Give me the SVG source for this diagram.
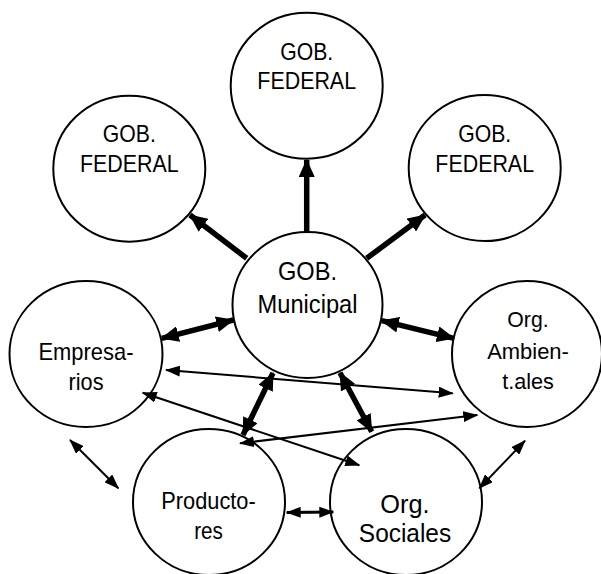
<svg xmlns="http://www.w3.org/2000/svg" width="601" height="574" viewBox="0 0 601 574">
  <style>
    .node ellipse { fill: #fff; stroke: #000; stroke-width: 2; }
    .node text { font-family: "Liberation Sans", Arial, sans-serif; fill: #000; text-anchor: middle; }
    .thick { stroke: #000; stroke-width: 5.5; fill: none; }
    .thin { stroke: #000; stroke-width: 2; fill: none; }
    .mid { stroke: #000; stroke-width: 3; fill: none; }
  </style>
  <defs>
    <marker id="headBig" viewBox="0 0 18 16" refX="17" refY="8" markerWidth="18" markerHeight="16" markerUnits="userSpaceOnUse" orient="auto-start-reverse">
      <path d="M0,0 L18,8 L0,16 z" fill="#000"/>
    </marker>
    <marker id="headSmall" viewBox="0 0 15 11" refX="14" refY="5.5" markerWidth="15" markerHeight="11" markerUnits="userSpaceOnUse" orient="auto-start-reverse">
      <path d="M0,0 L15,5.5 L0,11 z" fill="#000"/>
    </marker>
  </defs>

  <!-- nodes -->
  <g id="fed-top" class="node">
    <ellipse cx="306.7" cy="85.7" rx="76" ry="73"/>
    <text x="306.7" y="60" font-size="24" textLength="53" lengthAdjust="spacingAndGlyphs">GOB.</text>
    <text x="306.7" y="89.3" font-size="24" textLength="98.7" lengthAdjust="spacingAndGlyphs">FEDERAL</text>
  </g>
  <g id="fed-left" class="node">
    <ellipse cx="129.3" cy="168.7" rx="76" ry="73"/>
    <text x="129.3" y="142" font-size="24" textLength="53" lengthAdjust="spacingAndGlyphs">GOB.</text>
    <text x="129.3" y="172" font-size="24" textLength="98.7" lengthAdjust="spacingAndGlyphs">FEDERAL</text>
  </g>
  <g id="fed-right" class="node">
    <ellipse cx="484.7" cy="168" rx="76" ry="73"/>
    <text x="484.7" y="142" font-size="24" textLength="53" lengthAdjust="spacingAndGlyphs">GOB.</text>
    <text x="484.7" y="172" font-size="24" textLength="98.7" lengthAdjust="spacingAndGlyphs">FEDERAL</text>
  </g>
  <g id="municipal" class="node">
    <ellipse cx="307.5" cy="305" rx="75" ry="73"/>
    <text x="307.5" y="280" font-size="25" textLength="59" lengthAdjust="spacingAndGlyphs">GOB.</text>
    <text x="307.5" y="313.3" font-size="26" textLength="100" lengthAdjust="spacingAndGlyphs">Municipal</text>
  </g>
  <g id="empresarios" class="node">
    <ellipse cx="86" cy="354" rx="76.5" ry="73"/>
    <text x="86" y="360" font-size="24" textLength="95" lengthAdjust="spacingAndGlyphs">Empresa-</text>
    <text x="86" y="390" font-size="24" textLength="35" lengthAdjust="spacingAndGlyphs">rios</text>
  </g>
  <g id="ambientales" class="node">
    <ellipse cx="527" cy="354" rx="75" ry="73"/>
    <text x="528" y="326.7" font-size="22" textLength="41.3" lengthAdjust="spacingAndGlyphs">Org.</text>
    <text x="528" y="358.7" font-size="22" textLength="81.7" lengthAdjust="spacingAndGlyphs">Ambien-</text>
    <text x="528" y="388.7" font-size="22" textLength="51.7" lengthAdjust="spacingAndGlyphs">t.ales</text>
  </g>
  <g id="productores" class="node">
    <ellipse cx="209" cy="502" rx="76" ry="73"/>
    <text x="208.5" y="508.7" font-size="24" textLength="94.3" lengthAdjust="spacingAndGlyphs">Producto-</text>
    <text x="208.5" y="538.7" font-size="24" textLength="28.7" lengthAdjust="spacingAndGlyphs">res</text>
  </g>
  <g id="sociales" class="node">
    <ellipse cx="406" cy="502" rx="76" ry="73"/>
    <text x="405" y="513" font-size="26" textLength="49.3" lengthAdjust="spacingAndGlyphs">Org.</text>
    <text x="405" y="541.7" font-size="26" textLength="92.3" lengthAdjust="spacingAndGlyphs">Sociales</text>
  </g>

  <!-- connectors -->
  <g id="connectors">
    <line class="thick" x1="306.7" y1="232" x2="306.7" y2="160" marker-end="url(#headBig)"/>
    <line class="thick" x1="246.7" y1="258.3" x2="190" y2="215" marker-end="url(#headBig)"/>
    <line class="thick" x1="366.7" y1="258.3" x2="425" y2="215" marker-end="url(#headBig)"/>
    <line class="thick" x1="161.7" y1="338.3" x2="233.3" y2="320" marker-start="url(#headBig)" marker-end="url(#headBig)"/>
    <line class="thick" x1="381.7" y1="320.7" x2="454" y2="338.3" marker-start="url(#headBig)" marker-end="url(#headBig)"/>
    <line class="thick" x1="273" y1="373" x2="243" y2="435" marker-start="url(#headBig)" marker-end="url(#headBig)"/>
    <line class="thick" x1="340" y1="372.7" x2="371.7" y2="431.7" marker-start="url(#headBig)" marker-end="url(#headBig)"/>
    <line class="thin" x1="166" y1="370" x2="452.7" y2="393.3" marker-start="url(#headSmall)" marker-end="url(#headSmall)"/>
    <line class="thin" x1="142.7" y1="392.7" x2="359.3" y2="465.3" marker-start="url(#headSmall)" marker-end="url(#headSmall)"/>
    <line class="thin" x1="240" y1="443.3" x2="477.3" y2="415" marker-start="url(#headSmall)" marker-end="url(#headSmall)"/>
    <line class="thin" x1="70" y1="440" x2="118.3" y2="488.3" marker-start="url(#headSmall)" marker-end="url(#headSmall)"/>
    <line class="thin" x1="525" y1="440.7" x2="479.3" y2="488.3" marker-start="url(#headSmall)" marker-end="url(#headSmall)"/>
    <line class="mid" x1="286.7" y1="512.5" x2="333.3" y2="512" marker-start="url(#headSmall)" marker-end="url(#headSmall)"/>
  </g>
</svg>
